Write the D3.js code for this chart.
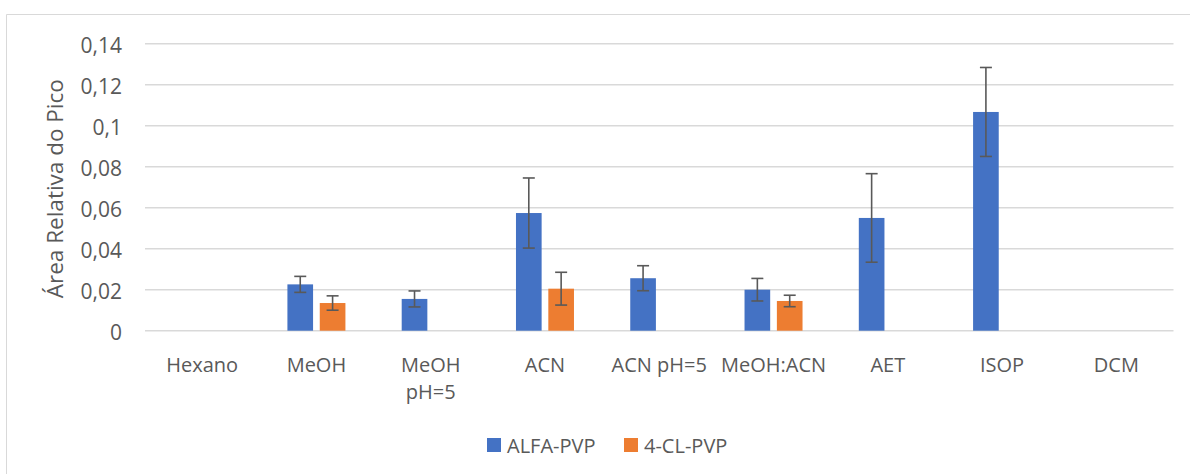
<!DOCTYPE html>
<html>
<head>
<meta charset="utf-8">
<script src="https://cdn.jsdelivr.net/npm/d3@7"></script>
<style>
  body { margin: 0; background: #fff; }
  svg { display: block; font-family: 'Open Sans', sans-serif; }
  .grid line { stroke: #d9d9d9; stroke-width: 1.5; }
  .tick-label { fill: #595959; font-size: 20px; }
</style>
</head>
<body>
<div id="chart"></div>
<script>
// categories and the two series (mean + error)
const categories = ['Hexano', 'MeOH', 'MeOH pH=5', 'ACN', 'ACN pH=5', 'MeOH:ACN', 'AET', 'ISOP', 'DCM']
const categoryLines = [['Hexano'], ['MeOH'], ['MeOH', 'pH=5'], ['ACN'], ['ACN pH=5'], ['MeOH:ACN'], ['AET'], ['ISOP'], ['DCM']]
const series = ['ALFA-PVP', '4-CL-PVP']
const alfaValues = [0, 0.0226, 0.0155, 0.0574, 0.0256, 0.0200, 0.0550, 0.1067, 0]
const alfaErrors = [0, 0.0039, 0.0039, 0.0171, 0.0061, 0.0055, 0.0216, 0.0217, 0]
const clValues = [0, 0.0135, 0, 0.0205, 0, 0.0145, 0, 0, 0]
const clErrors = [0, 0.0035, 0, 0.0080, 0, 0.0028, 0, 0, 0]
const yTicks = [0, 0.02, 0.04, 0.06, 0.08, 0.1, 0.12, 0.14]
const colors = ['#4472c4', '#ed7d31']

const W = 1190
const H = 474
const margin = { top: 43.7, right: 16.5, bottom: 143.3, left: 145 }
const width = W - margin.left - margin.right
const height = H - margin.top - margin.bottom

const rows = categories.map((c, i) => ({
  cat: c,
  vals: [
    { s: series[0], v: alfaValues[i], e: alfaErrors[i] },
    { s: series[1], v: clValues[i], e: clErrors[i] }
  ]
}))

const svg = d3.select('#chart').append('svg')
  .attr('width', W)
  .attr('height', H)

// outer chart frame (only top and left edges fall inside the window)
svg.append('path')
  .attr('d', `M6.5,${H}V14.5H${W}`)
  .attr('fill', 'none')
  .attr('stroke', '#d9d9d9')
  .attr('stroke-width', 1)

const g = svg.append('g')
  .attr('transform', `translate(${margin.left},${margin.top})`)

const x0 = d3.scaleBand()
  .domain(categories)
  .range([0, width])

const groupW = 58
const x1 = d3.scaleBand()
  .domain(series)
  .range([0, groupW])
  .paddingInner(0.207)

const y = d3.scaleLinear()
  .domain([0, 0.14])
  .range([height, 0])

// gridlines
g.append('g')
  .attr('class', 'grid')
  .selectAll('line')
  .data(yTicks)
  .enter().append('line')
  .attr('x1', 0)
  .attr('x2', width)
  .attr('y1', d => y(d))
  .attr('y2', d => y(d))

// y tick labels
const fmt = d => d === 0 ? '0' : String(+d.toFixed(2)).replace('.', ',')
g.append('g')
  .selectAll('text')
  .data(yTicks)
  .enter().append('text')
  .attr('class', 'tick-label')
  .style('font-size', '21px')
  .attr('x', -23)
  .attr('y', d => y(d))
  .attr('dy', '0.43em')
  .attr('text-anchor', 'end')
  .text(fmt)

// y axis title
svg.append('text')
  .attr('transform', `translate(63,${margin.top + 145}) rotate(-90)`)
  .attr('text-anchor', 'middle')
  .attr('fill', '#595959')
  .style('font-size', '22.5px')
  .text('Área Relativa do Pico')

// bars
const groups = g.selectAll('.grp')
  .data(rows)
  .enter().append('g')
  .attr('class', 'grp')
  .attr('transform', d => `translate(${x0(d.cat) + (x0.bandwidth() - groupW) / 2},0)`)

groups.selectAll('rect')
  .data(d => d.vals.filter(v => v.v > 0))
  .enter().append('rect')
  .attr('x', d => x1(d.s))
  .attr('width', x1.bandwidth())
  .attr('y', d => y(d.v))
  .attr('height', d => y(0) - y(d.v))
  .attr('fill', d => colors[series.indexOf(d.s)])

// error bars
const errs = groups.selectAll('.err')
  .data(d => d.vals.filter(v => v.e > 0))
  .enter().append('g')
  .attr('class', 'err')
  .attr('stroke', '#595959')
  .attr('stroke-width', 1.6)

const cx = d => x1(d.s) + x1.bandwidth() / 2
errs.append('line')
  .attr('x1', cx).attr('x2', cx)
  .attr('y1', d => y(d.v + d.e))
  .attr('y2', d => y(d.v - d.e))
errs.append('line')
  .attr('x1', d => cx(d) - 6).attr('x2', d => cx(d) + 6)
  .attr('y1', d => y(d.v + d.e)).attr('y2', d => y(d.v + d.e))
errs.append('line')
  .attr('x1', d => cx(d) - 6).attr('x2', d => cx(d) + 6)
  .attr('y1', d => y(d.v - d.e)).attr('y2', d => y(d.v - d.e))

// category labels
const cl = g.append('g')
  .selectAll('text')
  .data(categories)
  .enter().append('text')
  .attr('class', 'tick-label')
  .attr('text-anchor', 'middle')
  .attr('x', d => x0(d) + x0.bandwidth() / 2)
  .attr('y', height + 41)

cl.selectAll('tspan')
  .data((d, i) => categoryLines[i])
  .enter().append('tspan')
  .attr('x', function () { return this.parentNode.getAttribute('x') })
  .attr('dy', (d, i) => i === 0 ? 0 : 27)
  .text(d => d)

// legend
const legend = svg.append('g')
  .attr('transform', 'translate(487,438)')
const legendX = [0, 137]
const li = legend.selectAll('g')
  .data(series)
  .enter().append('g')
  .attr('transform', (d, i) => `translate(${legendX[i]},0)`)
li.append('rect')
  .attr('width', 14)
  .attr('height', 14)
  .attr('fill', (d, i) => colors[i])
li.append('text')
  .attr('class', 'tick-label')
  .attr('x', 20)
  .attr('y', 15)
  .text(d => d)
</script>
</body>
</html>
